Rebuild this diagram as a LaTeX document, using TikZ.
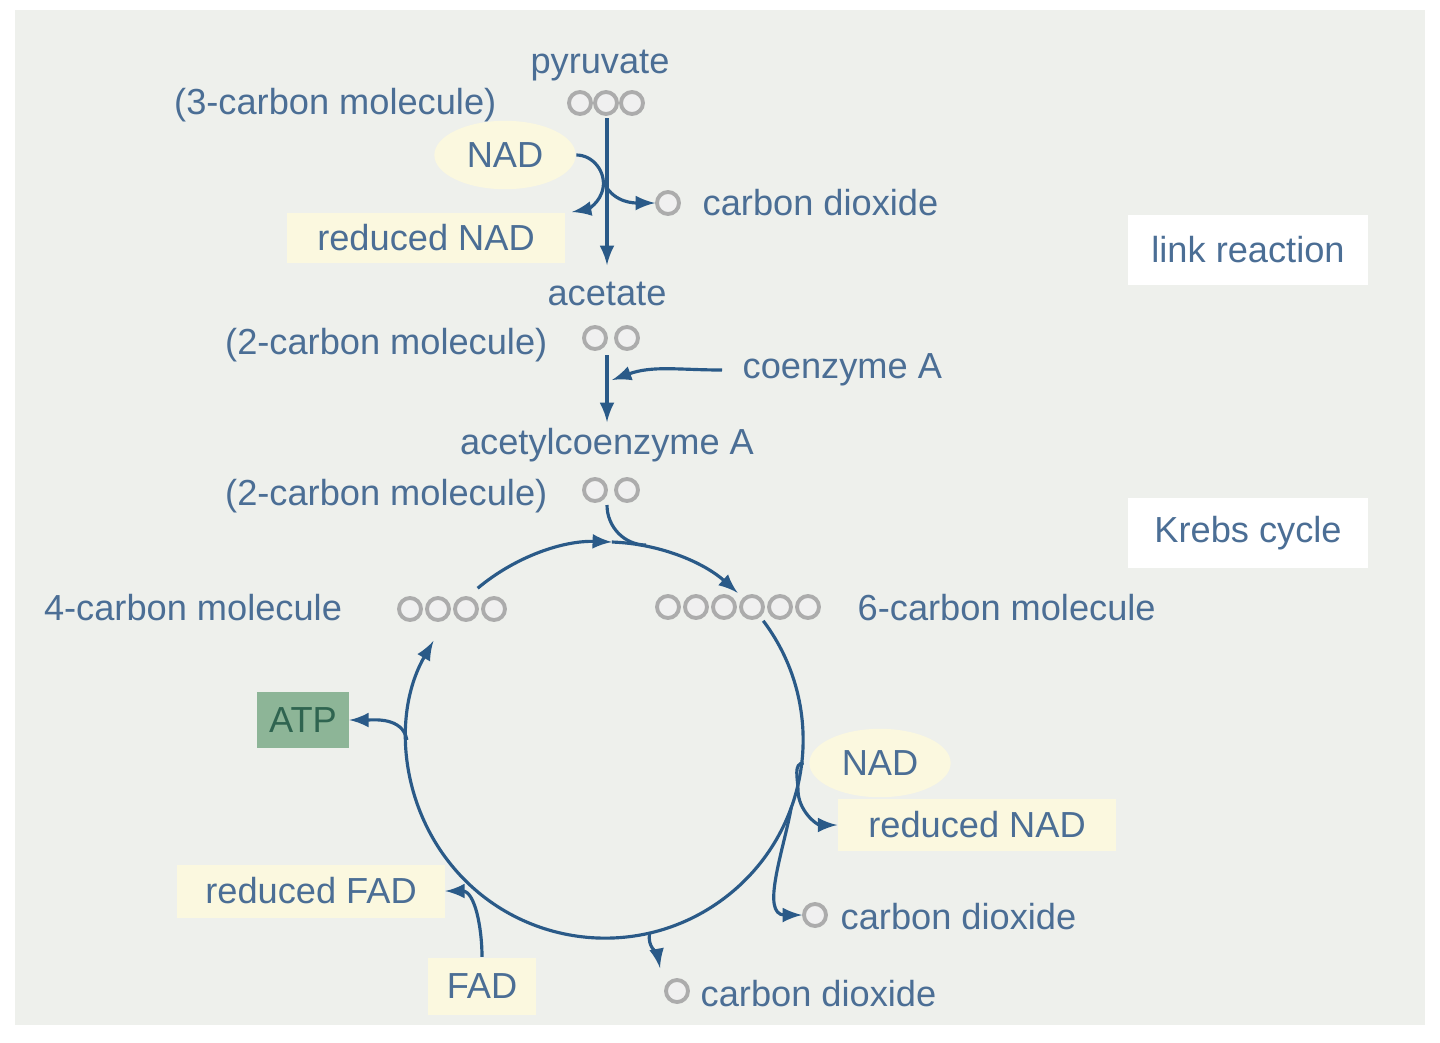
\documentclass[tikz,border=0pt]{standalone}
\usepackage{fontspec}
\setmainfont{Liberation Sans}
\usetikzlibrary{shapes}
\definecolor{txtblue}{HTML}{4B6E95}
\definecolor{arrblue}{HTML}{2A5A88}
\definecolor{cream}{HTML}{FBF8DF}
\definecolor{panel}{HTML}{EEF0EC}
\definecolor{atpgreen}{HTML}{8DB597}
\definecolor{atptext}{HTML}{2F6450}

\begin{document}
\begin{tikzpicture}[x=0.01cm, y=-0.01cm, >=latex,
  lbl/.style={text=txtblue, font=\fontsize{10.3}{12}\selectfont, inner sep=0},
  creambox/.style={fill=cream, text=txtblue, font=\fontsize{10.3}{12}\selectfont, minimum height=0.5cm},
  whitebox/.style={fill=white, text=txtblue, font=\fontsize{10.3}{12}\selectfont, minimum width=2.4cm, minimum height=0.7cm},
  flow/.style={->, arrblue, line width=0.9pt},
  ball/.style={circle, draw=gray!65, fill=gray!12, line width=1.1pt, minimum size=0.22cm, inner sep=0}]
\useasboundingbox (0,0) rectangle (1440,1042);
\fill[white] (0,0) rectangle (1440,1042);
\fill[panel] (15,10) rectangle (1425,1025);
% labels
\node[lbl] (pyr) at (600,66) {pyruvate};
\node[lbl, anchor=east] (c3) at (497,105) {(3-carbon molecule)};
\foreach \x [count=\i] in {580,606,632} \node[ball] (p\i) at (\x,103) {};
\node[creambox, ellipse, minimum width=1.2cm, minimum height=0.55cm] (nad1) at (505,155) {NAD};
\node[creambox, minimum width=2.78cm, minimum height=0.47cm] (rnad1) at (426,238) {reduced NAD};
\node[ball] (co1) at (668,203) {};
\node[lbl, anchor=west] (tco1) at (702,203) {carbon dioxide};
\node[whitebox] (link) at (1248,250) {link reaction};
\node[lbl] (acet) at (607,294) {acetate};
\node[lbl, anchor=east] (c2a) at (548,345) {(2-carbon molecule)};
\foreach \x [count=\i] in {595,627} \node[ball] (a\i) at (\x,338) {};
\node[lbl, anchor=west] (coa) at (742,370) {coenzyme A};
\node[lbl] (acoa) at (607,445) {acetylcoenzyme A};
\node[lbl, anchor=east] (c2b) at (548,496) {(2-carbon molecule)};
\foreach \x [count=\i] in {595,627} \node[ball] (b\i) at (\x,490) {};
\node[whitebox] (krebs) at (1248,533) {Krebs cycle};
\node[lbl] (c4) at (193,608) {4-carbon molecule};
\foreach \x [count=\i] in {410,438,466,494} \node[ball] (f\i) at (\x,609) {};
\foreach \x [count=\i] in {668,696,724,752,780,808} \node[ball] (s\i) at (\x,607) {};
\node[lbl, anchor=west] (c6) at (857,608) {6-carbon molecule};
\node[fill=atpgreen, text=atptext, font=\fontsize{10.3}{12}\selectfont, minimum width=0.9cm, minimum height=0.56cm] (atp) at (303,720) {ATP};
\node[creambox, ellipse, minimum width=1.2cm, minimum height=0.52cm] (nad2) at (880,763) {NAD};
\node[creambox, minimum width=2.78cm, minimum height=0.52cm] (rnad2) at (977,825) {reduced NAD};
\node[ball] (co2) at (815,915) {};
\node[lbl, anchor=west] (tco2) at (840,917) {carbon dioxide};
\node[ball] (co3) at (677,991) {};
\node[lbl, anchor=west] (tco3) at (700,994) {carbon dioxide};
\node[creambox, minimum width=1.07cm, minimum height=0.57cm] (fad) at (482,986) {FAD};
\node[creambox, minimum width=2.67cm, minimum height=0.53cm] (rfad) at (311,891) {reduced FAD};
% link reaction
\coordinate (v1) at (607,118);
\coordinate (v2) at (607,265);
\draw[flow] (v1) -- (v2);
\draw[flow] (nad1.east) to[out=0, in=80] (603,188) to[out=-100, in=10] (572,212);
\draw[flow] (605,185) to[out=-60, in=180] (co1.west);
\coordinate (v3) at (607,355);
\coordinate (v4) at (607,422);
\draw[flow] (v3) -- (v4);
\draw[flow] ([xshift=-0.2cm]coa.west) to[out=180, in=20] (612,380);
% Krebs cycle
\coordinate (cc) at (605,740);
\draw[arrblue, line width=0.9pt] (607,505) to[out=-90, in=180] (646,545);
\draw[flow] ([shift={(130:1.98cm)}]cc) arc[start angle=130, end angle=88, radius=1.98cm];
\draw[flow] ([shift={(88:1.98cm)}]cc) arc[start angle=88, end angle=48, radius=1.98cm];
\draw[flow] ([shift={(37:1.98cm)}]cc) arc[start angle=37, end angle=-210, radius=1.98cm];
\draw[flow] ([shift={(180:1.98cm)}]cc) to[out=100, in=0] (atp.east);
\draw[flow] ([xshift=-0.05cm]nad2.west) to[out=180, in=90] (798,790) to[out=-90, in=180] (rnad2.west);
\draw[flow] ([shift={(-20:1.98cm)}]cc) to[out=-100, in=180] (co2.west);
\draw[flow] ([shift={(-77:1.98cm)}]cc) to[out=-100, in=100] (660,968);
\draw[flow] (fad.north) to[out=90, in=0] (rfad.east);
\end{tikzpicture}
\end{document}
